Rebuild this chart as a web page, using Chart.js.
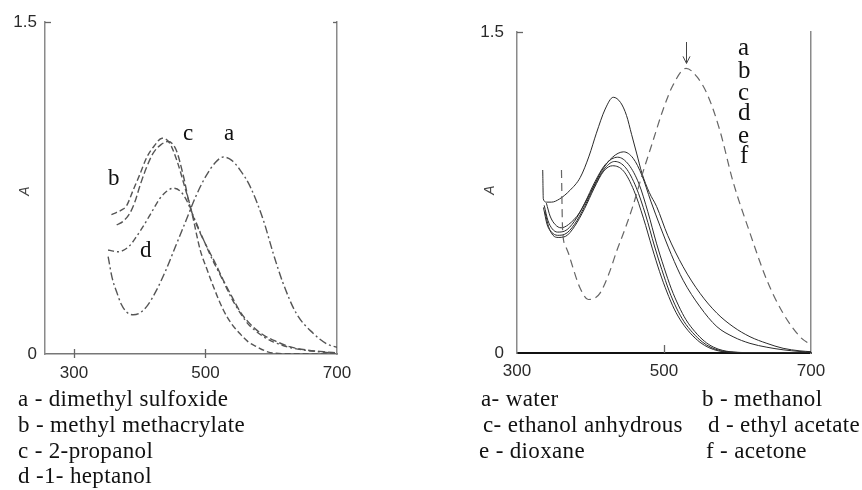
<!DOCTYPE html>
<html><head><meta charset="utf-8">
<script src="https://cdn.jsdelivr.net/npm/chart.js@4.4.1/dist/chart.umd.min.js"></script>
<style>
html,body{margin:0;padding:0;background:#fff;width:862px;height:490px;overflow:hidden;position:relative}
canvas{position:absolute;top:0}
.t{position:absolute;font-family:'Liberation Serif','Times New Roman',serif;color:#111;white-space:nowrap;line-height:1}
.lg{font-size:23px;letter-spacing:0.35px}
.l1{font-size:23px}
.l2{font-size:25px}
.ax{position:absolute;font-family:'Liberation Sans',Arial,sans-serif;font-style:italic;font-size:14px;color:#444;line-height:1;transform:translate(-50%,-50%) rotate(-90deg)}
</style></head>
<body>
<canvas id="c1" width="400" height="390" style="left:0"></canvas>
<canvas id="c2" width="392" height="390" style="left:470px"></canvas>

<div class="ax" style="left:24px;top:191px">A</div>
<div class="ax" style="left:489px;top:190px">A</div>

<div class="t l1" style="left:183px;top:121px">c</div>
<div class="t l1" style="left:224px;top:121px">a</div>
<div class="t l1" style="left:108px;top:166px">b</div>
<div class="t l1" style="left:140px;top:238px">d</div>

<div class="t l2" style="left:738px;top:34px">a</div>
<div class="t l2" style="left:738px;top:57px">b</div>
<div class="t l2" style="left:738px;top:79px">c</div>
<div class="t l2" style="left:738px;top:99px">d</div>
<div class="t l2" style="left:738px;top:122px">e</div>
<div class="t l2" style="left:740px;top:142px">f</div>

<div class="t lg" style="left:18px;top:387px">a - dimethyl sulfoxide</div>
<div class="t lg" style="left:18px;top:413px">b - methyl methacrylate</div>
<div class="t lg" style="left:18px;top:439px">c - 2-propanol</div>
<div class="t lg" style="left:18px;top:464px">d -1- heptanol</div>

<div class="t lg" style="left:481px;top:387px">a- water</div>
<div class="t lg" style="left:702px;top:387px">b - methanol</div>
<div class="t lg" style="left:483px;top:413px">c- ethanol anhydrous</div>
<div class="t lg" style="left:708px;top:413px">d - ethyl acetate</div>
<div class="t lg" style="left:479px;top:439px">e - dioxane</div>
<div class="t lg" style="left:706px;top:439px">f - acetone</div>

<script>
// ---------- data (wavelength nm, absorbance) ----------
const xTickValues = [300, 500, 700];
const yTickValues = [0, 1.5];

// Left panel
const leftLabels = ['a', 'b', 'c', 'd'];
const La_x = [352,358,365,372,380,390,400,412,425,440,455,470,485,500,515,527,540,553,568,588,603,618,638,664,685,700];
const La_y = [0.44,0.345,0.28,0.225,0.19,0.177,0.185,0.22,0.285,0.38,0.49,0.6,0.71,0.8,0.865,0.89,0.875,0.83,0.756,0.605,0.455,0.32,0.184,0.093,0.045,0.03];
const Lb_x = [357,365,372,380,390,400,411,422,434,445,457,468,478,492,502,512,527,540,553,565,578,590,603,640,700];
const Lb_y = [0.63,0.64,0.65,0.67,0.74,0.81,0.89,0.94,0.975,0.955,0.87,0.76,0.655,0.47,0.385,0.305,0.2,0.135,0.09,0.055,0.033,0.015,0.004,0.001,0];
const Lc_x = [365,375,385,393,400,410,420,432,443,455,466,477,490,502,515,527,540,553,565,578,590,603,628,654,680,700];
const Lc_y = [0.583,0.6,0.636,0.69,0.757,0.84,0.905,0.945,0.96,0.925,0.81,0.66,0.56,0.485,0.41,0.334,0.26,0.19,0.145,0.108,0.082,0.063,0.033,0.018,0.01,0.005];
const Ld_x = [352,360,367,375,385,395,405,418,430,441,451,462,472,482,495,510,527,540,553,565,578,590,603,628,654,680,700];
const Ld_y = [0.47,0.465,0.462,0.468,0.49,0.53,0.575,0.64,0.7,0.735,0.749,0.735,0.69,0.62,0.53,0.43,0.33,0.25,0.185,0.135,0.1,0.075,0.055,0.03,0.016,0.008,0.004];

// Right panel
const rightLabels = ['a', 'b', 'c', 'd', 'e', 'f'];
const Ra_x = [360.5,362,366,370,376,385,397,405,413,425,436,447,458,470,484,498,512,530,545,560,576,594,617,640,662,685,700];
const Ra_y = [0.855,0.58,0.5,0.466,0.4,0.31,0.25,0.255,0.28,0.37,0.48,0.58,0.69,0.83,0.98,1.13,1.25,1.33,1.29,1.2,1.04,0.8,0.56,0.34,0.186,0.076,0.037];
const Rb_x = [335,335.8,340,347,358,372,386,398,408,420,431,441,449,456,463,470,480,490,505,526,549,572,594,617,640,662,685,700];
const Rb_y = [0.855,0.72,0.705,0.705,0.72,0.76,0.82,0.92,1.027,1.14,1.195,1.17,1.11,1.02,0.93,0.84,0.75,0.684,0.55,0.403,0.279,0.186,0.123,0.076,0.045,0.022,0.01,0.006];
const Rc_x = [340,345,352,360,370,385,400,415,430,445,458,470,482,495,510,526,549,572,594,617,640,662,685,700];
const Rc_y = [0.7,0.64,0.6,0.585,0.6,0.655,0.75,0.85,0.915,0.94,0.91,0.83,0.71,0.59,0.46,0.34,0.216,0.123,0.076,0.045,0.027,0.015,0.007,0.004];
const Rd_x = [337,342,348,355,365,378,392,406,420,437,452,466,478,490,500,510,520,530,542,555,567,580,600,630,700];
const Rd_y = [0.69,0.62,0.58,0.565,0.57,0.615,0.7,0.8,0.88,0.915,0.88,0.79,0.66,0.51,0.4,0.3,0.22,0.155,0.1,0.055,0.028,0.012,0.003,0.001,0];
const Re_x = [336,341,347,355,365,378,392,406,420,433,448,462,475,487,497,507,517,527,539,552,564,577,597,627,700];
const Re_y = [0.68,0.6,0.565,0.55,0.555,0.6,0.685,0.785,0.865,0.895,0.865,0.775,0.645,0.5,0.39,0.29,0.21,0.148,0.095,0.052,0.026,0.011,0.003,0.001,0];
const Rf_x = [338,343,349,356,366,378,392,405,418,430,445,459,472,484,494,504,514,524,536,549,561,574,594,624,700];
const Rf_y = [0.66,0.59,0.55,0.54,0.545,0.59,0.675,0.77,0.85,0.875,0.85,0.76,0.63,0.49,0.38,0.285,0.205,0.145,0.092,0.05,0.025,0.01,0.003,0.001,0];
const arrowAt = 530;
const arrowPeak = 1.33;

// ---------- helpers ----------
const pts = (xs, ys) => xs.map((x, i) => ({x: x, y: ys[i]}));

const decor = {
  id: 'decor',
  afterDraw(chart, args, o) {
    const ctx = chart.ctx, xs = chart.scales.x, ys = chart.scales.y, a = chart.chartArea;
    ctx.save();
    ctx.strokeStyle = o.color; ctx.lineWidth = 1.3;
    (o.xTicks || []).forEach(v => {
      const px = Math.round(xs.getPixelForValue(v)) + 0.5;
      ctx.beginPath(); ctx.moveTo(px, a.bottom - o.up); ctx.lineTo(px, a.bottom + o.down); ctx.stroke();
    });
    (o.yTicks || []).forEach(v => {
      const py = Math.round(ys.getPixelForValue(v)) + 0.5;
      ctx.beginPath(); ctx.moveTo(a.left, py); ctx.lineTo(a.left + 6, py); ctx.stroke();
      if (o.rightTick) { ctx.beginPath(); ctx.moveTo(a.right - 4, py); ctx.lineTo(a.right, py); ctx.stroke(); }
    });
    if (o.arrowX) {
      const px = Math.round(xs.getPixelForValue(o.arrowX)) + 0.5;
      const top = a.top + 10, tip = ys.getPixelForValue(o.arrowY) - 5;
      ctx.strokeStyle = '#444'; ctx.lineWidth = 1;
      ctx.beginPath(); ctx.moveTo(px, top); ctx.lineTo(px, tip); ctx.stroke();
      ctx.beginPath(); ctx.moveTo(px - 3.5, tip - 7); ctx.lineTo(px, tip); ctx.lineTo(px + 3.5, tip - 7); ctx.stroke();
    }
    ctx.restore();
  }
};

function makeChart(id, datasets, xmin, yw, xh, pad, axisCol, bottomCol, bottomW, tickPadY, tickPadX, decorOpts) {
  return new Chart(document.getElementById(id), {
    type: 'line',
    data: {datasets: datasets},
    plugins: [decor],
    options: {
      responsive: false, animation: false, devicePixelRatio: 1,
      layout: {padding: pad},
      plugins: {legend: {display: false}, tooltip: {enabled: false}, decor: decorOpts},
      elements: {point: {radius: 0}, line: {cubicInterpolationMode: 'monotone', fill: false}},
      scales: {
        x: {
          type: 'linear', min: xmin, max: 700,
          afterBuildTicks: s => { s.ticks = xTickValues.map(v => ({value: v})); },
          afterFit: s => { s.height = xh; },
          grid: {display: false},
          border: {display: true, color: bottomCol, width: bottomW},
          ticks: {autoSkip: false, maxRotation: 0, padding: tickPadX, color: '#2a2a2a',
                  font: {family: "'Liberation Sans', Arial, sans-serif", size: 17}}
        },
        y: {
          type: 'linear', min: 0, max: 1.5,
          afterBuildTicks: s => { s.ticks = yTickValues.map(v => ({value: v})); },
          afterFit: s => { s.width = yw; },
          grid: {display: false},
          border: {display: true, color: axisCol, width: 1.5},
          ticks: {padding: tickPadY, color: '#2a2a2a',
                  font: {family: "'Liberation Sans', Arial, sans-serif", size: 17}}
        },
        y2: {
          type: 'linear', position: 'right', min: 0, max: 1.5,
          afterFit: s => { s.width = 0; },
          grid: {display: false}, ticks: {display: false},
          border: {display: true, color: axisCol, width: 1.5}
        }
      }
    }
  });
}

const greyDash = (lbl, xs, ys, dash) => ({label: lbl, data: pts(xs, ys), borderColor: '#555', borderWidth: 1.4, borderDash: dash});
const solid = (lbl, xs, ys) => ({label: lbl, data: pts(xs, ys), borderColor: '#2a2a2a', borderWidth: 1});

makeChart('c1', [
  greyDash(leftLabels[0], La_x, La_y, [8, 3, 2, 3]),
  greyDash(leftLabels[1], Lb_x, Lb_y, [6, 3]),
  greyDash(leftLabels[2], Lc_x, Lc_y, [7, 3]),
  greyDash(leftLabels[3], Ld_x, Ld_y, [6, 3, 2, 3])
], 256, 45, 36, {left: 0, top: 22, right: 63, bottom: 0}, '#8a8a8a', '#777', 1.5, 0, 1,
  {color: '#666', xTicks: [300, 500], up: 5, down: 4, yTicks: [1.5], rightTick: true});

makeChart('c2', [
  {label: rightLabels[0], data: pts(Ra_x, Ra_y), borderColor: '#666', borderWidth: 1.2, borderDash: [8, 5]},
  solid(rightLabels[1], Rb_x, Rb_y),
  solid(rightLabels[2], Rc_x, Rc_y),
  solid(rightLabels[3], Rd_x, Rd_y),
  solid(rightLabels[4], Re_x, Re_y),
  solid(rightLabels[5], Rf_x, Rf_y)
], 300, 47, 37, {left: 0, top: 32, right: 51, bottom: 0}, '#8a8a8a', '#111', 2, 5, 0,
  {color: '#666', xTicks: [500], up: 8, down: 0, yTicks: [1.5], rightTick: false, arrowX: arrowAt, arrowY: arrowPeak});
</script>
</body></html>
